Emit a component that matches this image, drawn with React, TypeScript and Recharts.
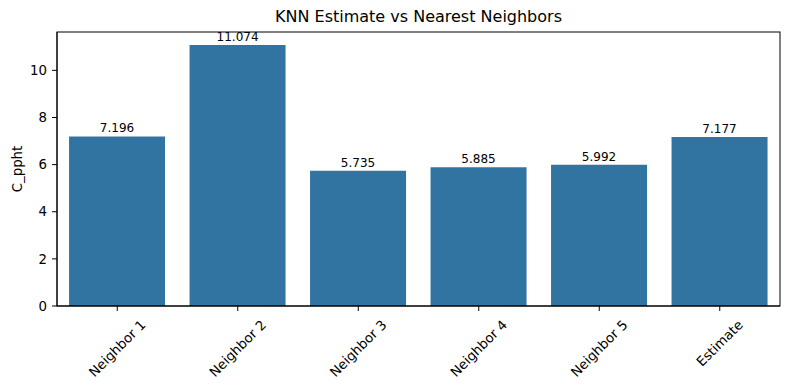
import { Bar, BarChart, LabelList, XAxis, YAxis } from "recharts";

const categories = ["Neighbor 1", "Neighbor 2", "Neighbor 3", "Neighbor 4", "Neighbor 5", "Estimate"];
const values = [7.196, 11.074, 5.735, 5.885, 5.992, 7.177];
const yTicks = [0, 2, 4, 6, 8, 10];

const data = categories.map((name, i) => ({ name, value: values[i] }));

const FONT = "DejaVu Sans, sans-serif";
const BAR_COLOR = "#3274a1";

// plot frame (matplotlib draws all four spines)
const PLOT = { left: 57, top: 32, right: 780, bottom: 306 };

let ctx: CanvasRenderingContext2D | null = null;
function textWidth(s: string) {
  if (!ctx) ctx = document.createElement("canvas").getContext("2d");
  if (!ctx) return s.length * 7.4;
  ctx.font = "13.33px DejaVu Sans";
  return ctx.measureText(s).width;
}

// matplotlib-style rotated label: 45deg, centered horizontally on the tick, top of bbox below the tick
function RotatedTick(props: any) {
  const { x, y, payload } = props;
  const label = String(payload.value);
  const L = textWidth(label);
  const cy = y + 4 + (L + 15.5) * 0.3536;
  return (
    <text
      x={x}
      y={cy}
      textAnchor="middle"
      dominantBaseline="central"
      transform={`rotate(-45 ${x} ${cy})`}
      fontFamily={FONT}
      fontSize={13.33}
      fill="#000"
    >
      {label}
    </text>
  );
}

function ValueLabel(props: any) {
  const { x, y, width, value } = props;
  return (
    <text x={x + width / 2} y={y - 4} textAnchor="middle" fontFamily={FONT} fontSize={12} fill="#000">
      {Number(value).toFixed(3)}
    </text>
  );
}

export default function App() {
  return (
    <div style={{ position: "absolute", left: 0, top: 0, width: 790, height: 390, background: "#fff" }}>
      <BarChart
        width={790}
        height={390}
        data={data}
        margin={{ top: PLOT.top, right: 790 - PLOT.right, bottom: 0, left: 7 }}
        barCategoryGap="10%"
      >
        <XAxis
          dataKey="name"
          height={390 - PLOT.bottom}
          interval={0}
          tick={<RotatedTick />}
          tickSize={5}
          tickLine={{ stroke: "#000" }}
          axisLine={{ stroke: "#000" }}
        />
        <YAxis
          width={50}
          domain={[0, 11.6277]}
          ticks={yTicks}
          tickSize={5}
          tickMargin={5}
          tickLine={{ stroke: "#000" }}
          axisLine={{ stroke: "#000" }}
          tick={{ fill: "#000", fontFamily: FONT, fontSize: 13.33 }}
          allowDataOverflow
        />
        <Bar dataKey="value" fill={BAR_COLOR} isAnimationActive={false}>
          <LabelList dataKey="value" content={<ValueLabel />} />
        </Bar>
      </BarChart>
      <svg
        width={790}
        height={390}
        style={{ position: "absolute", left: 0, top: 0, pointerEvents: "none" }}
      >
        <rect
          x={PLOT.left}
          y={PLOT.top}
          width={PLOT.right - PLOT.left}
          height={PLOT.bottom - PLOT.top}
          fill="none"
          stroke="#000"
          strokeWidth={1}
        />
      </svg>
      <div
        style={{
          position: "absolute",
          left: PLOT.left,
          width: PLOT.right - PLOT.left,
          top: 8,
          textAlign: "center",
          fontFamily: FONT,
          fontSize: 16,
          color: "#000",
          lineHeight: "18px",
        }}
      >
        KNN Estimate vs Nearest Neighbors
      </div>
      <div
        style={{
          position: "absolute",
          left: 17,
          top: 169,
          transform: "translate(-50%, -50%) rotate(-90deg)",
          fontFamily: FONT,
          fontSize: 13.33,
          color: "#000",
          whiteSpace: "nowrap",
        }}
      >
        C_ppht
      </div>
    </div>
  );
}
